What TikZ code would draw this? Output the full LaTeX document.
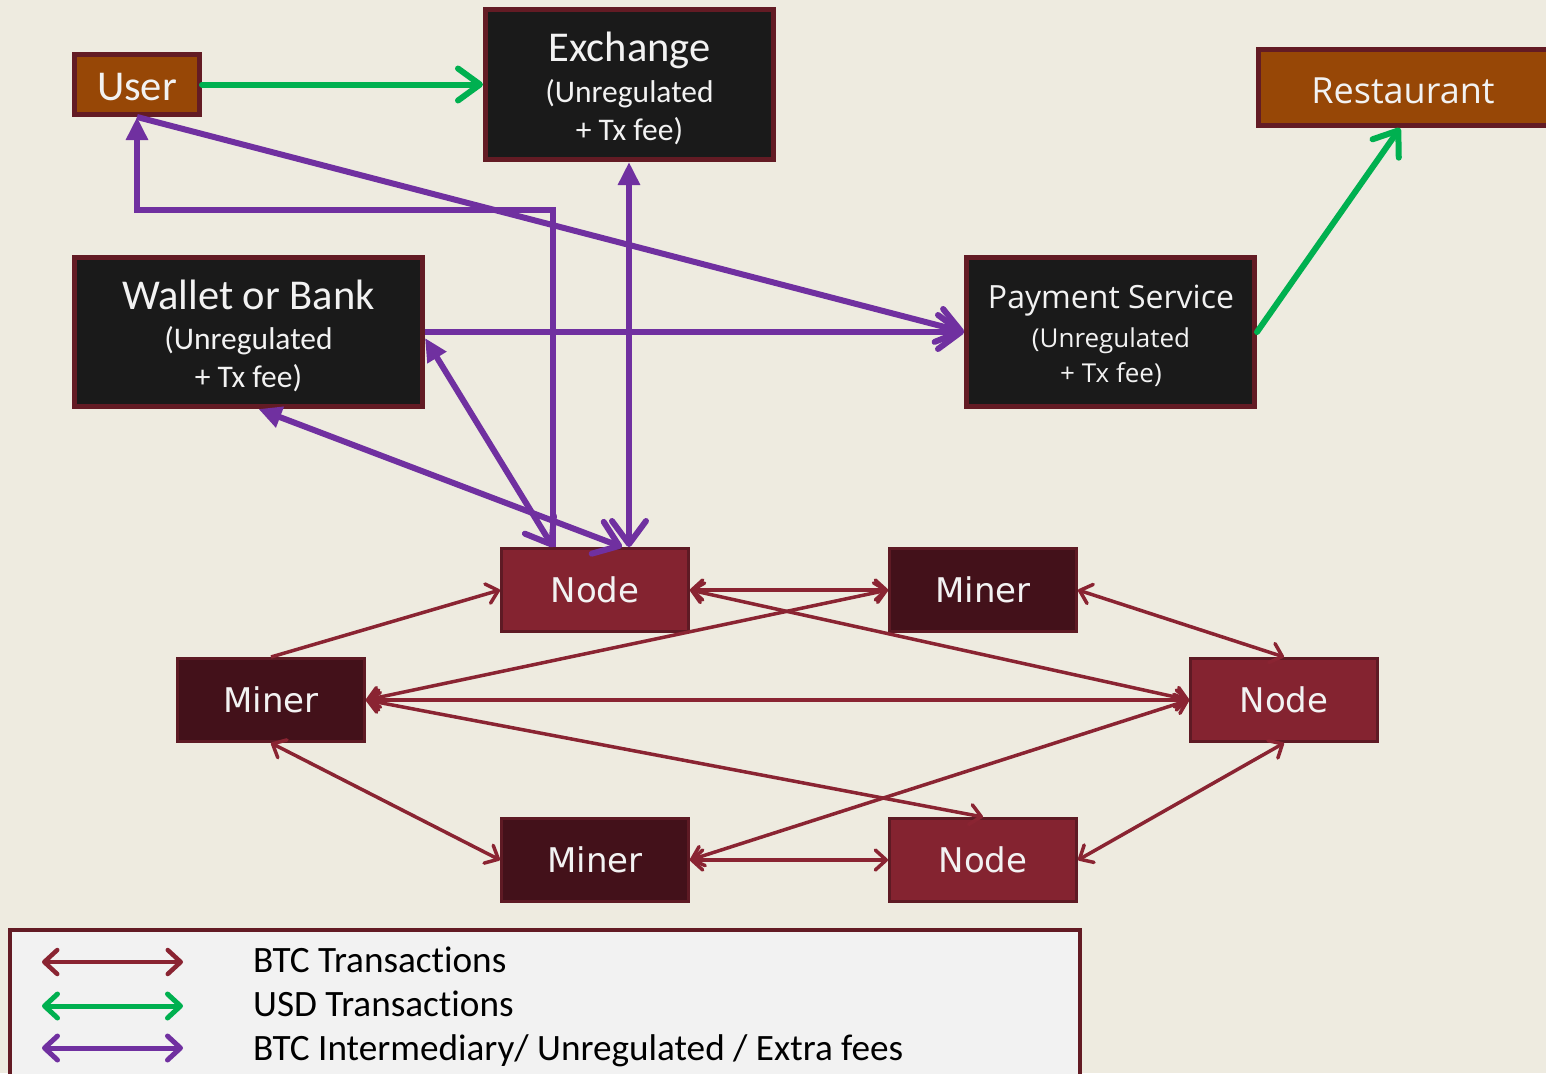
\documentclass[tikz,border=0pt]{standalone}
\usepackage{fontspec}
\setmainfont{Carlito}[Ligatures=CommonOff]
\newfontfamily\uifont{Open Sans}
\newfontfamily\netfont{DejaVu Sans}
\usetikzlibrary{arrows.meta}

\definecolor{bgcream}{HTML}{EEEBE0}
\definecolor{boxedge}{HTML}{631B24}
\definecolor{brownfill}{HTML}{974706}
\definecolor{blackfill}{HTML}{1A1A1A}
\definecolor{nodefill}{HTML}{842330}
\definecolor{minerfill}{HTML}{43111A}
\definecolor{netedge}{HTML}{5E1A24}
\definecolor{btcred}{HTML}{8A2432}
\definecolor{usdgreen}{HTML}{00B050}
\definecolor{feepurple}{HTML}{7030A0}
\definecolor{legendfill}{HTML}{F2F2F2}
\definecolor{boxtextc}{HTML}{F2F2F2}

\tikzset{
  PurpleV/.tip={Straight Barb[length=23pt,width=34pt,round]},
  PurpleTri/.tip={Triangle[length=23pt,width=21pt]},
  GreenV/.tip={Straight Barb[length=22pt,width=32pt,round]},
  RedV/.tip={Straight Barb[length=11pt,width=20pt,round]},
  LegV/.tip={Straight Barb[length=13pt,width=24pt,round]},
  bigbox/.style={rectangle, draw=boxedge, line width=5pt, inner sep=0pt},
  brownbox/.style={bigbox, fill=brownfill},
  blackbox/.style={bigbox, fill=blackfill},
  netbox/.style={rectangle, draw=netedge, line width=3pt, inner sep=0pt,
    minimum width=187pt, minimum height=83pt},
  nodebox/.style={netbox, fill=nodefill},
  minerbox/.style={netbox, fill=minerfill},
  boxtext/.style={text=boxtextc, inner sep=0pt, anchor=base},
  titletext/.style={boxtext, font=\fontsize{42.5pt}{42.5pt}\selectfont},
  subtext/.style={boxtext, font=\fontsize{31.5pt}{31.5pt}\selectfont},
  uititle/.style={boxtext, font=\uifont\fontsize{32pt}{32pt}\selectfont},
  uisub/.style={boxtext, font=\uifont\fontsize{26pt}{26pt}\selectfont},
  nettext/.style={boxtext, font=\netfont\fontsize{34pt}{34pt}\selectfont},
  legendtext/.style={inner sep=0pt, anchor=base west, text=black,
    font=\fontsize{37.2pt}{37.2pt}\selectfont},
  feeline/.style={draw=feepurple, line width=6pt},
  usdline/.style={draw=usdgreen, line width=6pt, line cap=round},
  btcline/.style={draw=btcred, line width=3.5pt},
}

\begin{document}
\begin{tikzpicture}[x=1pt,y=-1pt]
% canvas
\fill[bgcream] (0,0) rectangle (1546,1073);
\useasboundingbox (0,0) rectangle (1546,1073);

% --- parties and intermediaries ---
\node[brownbox, minimum width=125pt, minimum height=60pt] (user) at (137,84.5) {};
\node[titletext] (userT) at (137,100) {User};

\node[blackbox, minimum width=288pt, minimum height=150pt] (ex) at (629.5,84.5) {};
\node[titletext] (exT1) at (629.5,61) {Exchange};
\node[subtext] (exT2) at (629.5,102) {(Unregulated};
\node[subtext] (exT3) at (629.5,140) {+ Tx fee)};

\node[brownbox, minimum width=300pt, minimum height=76pt] (rest) at (1408,87.5) {};
\node[uititle, font=\uifont\fontsize{36pt}{36pt}\selectfont] (restT) at (1403,103) {Restaurant};

\node[blackbox, minimum width=348pt, minimum height=149pt] (wallet) at (248.5,332) {};
\node[titletext] (walT1) at (248.5,309) {Wallet or Bank};
\node[subtext] (walT2) at (248.5,349) {(Unregulated};
\node[subtext] (walT3) at (248.5,387) {+ Tx fee)};

\node[blackbox, minimum width=288pt, minimum height=149pt] (pay) at (1110.5,332) {};
\node[uititle] (payT1) at (1111,308) {Payment Service};
\node[uisub] (payT2) at (1111,347) {(Unregulated};
\node[uisub] (payT3) at (1111,382) {+ Tx fee)};

% --- bitcoin network ---
\node[nodebox] (n1) at (595,590) {};
\node[nettext] (n1T) at (595,602) {Node};
\node[minerbox] (m1) at (983,590) {};
\node[nettext] (m1T) at (983,602) {Miner};
\node[minerbox] (m2) at (271,700) {};
\node[nettext] (m2T) at (271,712) {Miner};
\node[nodebox] (n2) at (1284,700) {};
\node[nettext] (n2T) at (1284,712) {Node};
\node[minerbox] (m3) at (595,860) {};
\node[nettext] (m3T) at (595,872) {Miner};
\node[nodebox] (n3) at (983,860) {};
\node[nettext] (n3T) at (983,872) {Node};

% --- BTC transactions between network peers ---
\draw[btcline, -RedV] (m2.north) -- (n1.west);
\draw[btcline, RedV-RedV] (n1.east) -- (m1.west);
\draw[btcline, RedV-RedV] (m1.east) -- (n2.north);
\draw[btcline, RedV-RedV] (n1.east) -- (n2.west);
\draw[btcline, RedV-RedV] (m1.west) -- (m2.east);
\draw[btcline, RedV-RedV] (m2.east) -- (n2.west);
\draw[btcline, RedV-RedV] (m2.east) -- (n3.north);
\draw[btcline, RedV-RedV] (m2.south) -- (m3.west);
\draw[btcline, RedV-RedV] (m3.east) -- (n2.west);
\draw[btcline, RedV-RedV] (m3.east) -- (n3.west);
\draw[btcline, RedV-RedV] (n3.east) -- (n2.south);

% --- USD transactions ---
\draw[usdline, -GreenV] (user.east) -- (ex.west);
\coordinate (restIn) at ([xshift=-8pt]rest.south);
\draw[usdline, -GreenV] (pay.east) -- (restIn);

% --- intermediary / unregulated BTC flows ---
\coordinate (n1a) at ([xshift=-42pt]n1.north);
\coordinate (n1b) at ([xshift=34pt]n1.north);
\coordinate (n1c) at ([xshift=27pt]n1.north);
\coordinate (walR) at ([yshift=-6pt]wallet.east);
\coordinate (walB) at ([xshift=10pt]wallet.south);
\draw[feeline, -PurpleTri] (n1a) -- (n1a |- 0,210) -| (user.south);
\draw[feeline, PurpleTri-PurpleV] (ex.south -| n1b) -- (n1b);
\draw[feeline, PurpleTri-PurpleV] (walR) -- (n1a);
\draw[feeline, PurpleTri-PurpleV] (walB) -- (n1c);
\draw[feeline, -PurpleV] (wallet.east) -- (pay.west);
\draw[feeline, -PurpleV] (user.south) -- (pay.west);

% --- legend ---
\node[rectangle, draw=boxedge, line width=4pt, fill=legendfill, inner sep=0pt,
  minimum width=1070pt, minimum height=160pt] (legend) at (545,1010) {};
\coordinate (lgA1) at (42,962);   \coordinate (lgB1) at (183,962);
\coordinate (lgA2) at (42,1006);  \coordinate (lgB2) at (183,1006);
\coordinate (lgA3) at (42,1048);  \coordinate (lgB3) at (183,1048);
\draw[draw=btcred, line width=4.5pt, LegV-LegV] (lgA1) -- (lgB1);
\draw[draw=usdgreen, line width=5pt, LegV-LegV] (lgA2) -- (lgB2);
\draw[draw=feepurple, line width=5pt, LegV-LegV] (lgA3) -- (lgB3);
\node[legendtext] (lgT1) at (253,972) {BTC Transactions};
\node[legendtext] (lgT2) at (253,1016) {USD Transactions};
\node[legendtext] (lgT3) at (253,1060) {BTC Intermediary/ Unregulated / Extra fees};
\end{tikzpicture}
\end{document}
